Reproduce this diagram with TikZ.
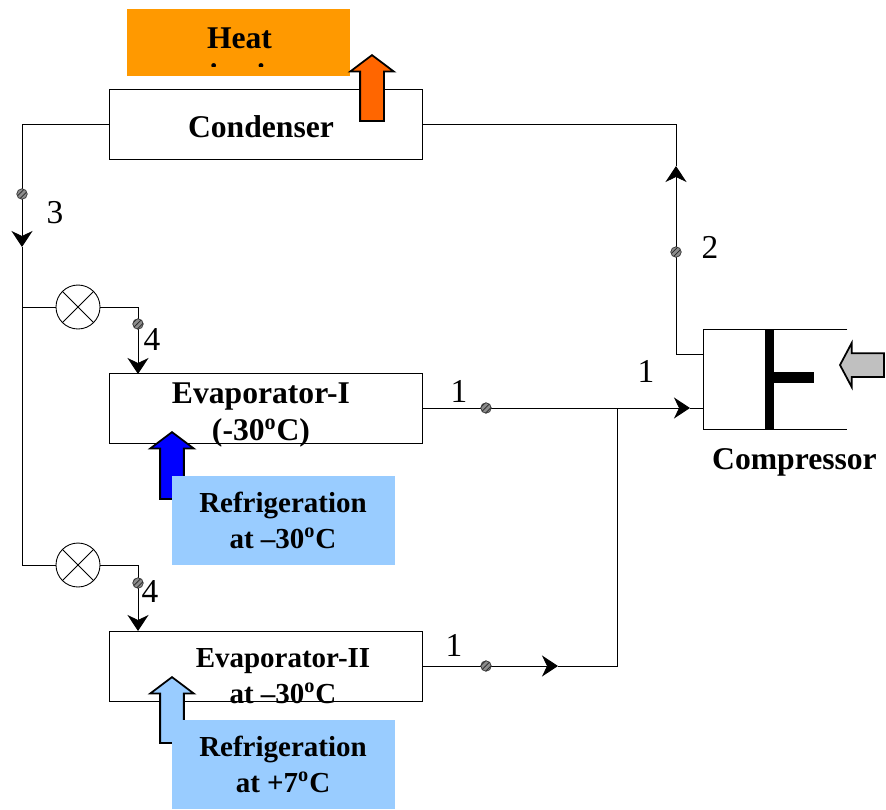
\documentclass[tikz,border=0pt]{standalone}
\usepackage{fontspec}
\setmainfont{Liberation Serif}
\usepackage{xcolor}
\usepackage{tikz}
\usetikzlibrary{shapes.arrows, arrows.meta, patterns}
\definecolor{myorange}{RGB}{255,153,0}
\definecolor{hotarrow}{RGB}{255,102,0}
\definecolor{myblue}{RGB}{0,0,255}
\definecolor{myskyblue}{RGB}{153,204,255}
\definecolor{mygrey}{RGB}{192,192,192}
\tikzset{
  unitbox/.style={rectangle, draw=black, minimum width=6.26cm, minimum height=1.4cm, inner sep=0pt, line width=0.5pt},
  notebox/.style={rectangle, minimum width=4.46cm, inner sep=0pt},
  boldtext/.style={font=\bfseries\fontsize{18}{21.5}\selectfont, align=center, inner sep=0pt},
  smalltext/.style={font=\bfseries\fontsize{16.5}{20.5}\selectfont, align=center, inner sep=0pt},
  statenum/.style={font=\fontsize{19}{21}\selectfont, inner sep=0pt},
  statedot/.style={circle, draw=black!80, preaction={fill=black!45}, pattern=north east lines, pattern color=black!85, minimum size=0.21cm, inner sep=0pt, line width=0.4pt},
  valve/.style={circle, draw=black, fill=white, minimum size=0.88cm, inner sep=0pt, line width=0.5pt},
  blockarrow/.style={single arrow, draw=black, line width=1pt, inner xsep=0pt, inner ysep=0.22cm, minimum width=0.84cm,
    single arrow head extend=0.2cm, single arrow tip angle=106, anchor=tip},
  line/.style={line width=0.5pt, color=black},
  arrow/.style={-{Stealth[length=0.32cm, width=0.42cm, inset=0.1cm]}, line width=0.5pt, color=black}
}
\begin{document}
\begin{tikzpicture}[x=0.02cm, y=-0.02cm]
  \useasboundingbox (0,0) rectangle (886,809);

  % Condenser and heat rejection
  \node[unitbox] (cond) at (265.5,124) {};
  \node[boldtext] (condtext) at (261,127) {Condenser};
  \node[notebox, fill=myorange, minimum height=1.34cm] (heat) at (238.5,42.5) {};
  \begin{scope}
    \clip (127,9) rectangle (350,66);
    \node[boldtext] (heattext) at (239.5,60) {Heat\\rejection};
  \end{scope}
  \node[blockarrow, rotate=90, fill=hotarrow, minimum height=1.32cm] (hotout) at (372,54) {};

  % Evaporator I
  \node[unitbox] (evapone) at (265.5,408.5) {};
  \node[boldtext] (evaponetext) at (261,415) {Evaporator-I\\(-30\textsuperscript{o}C)};
  \node[blockarrow, rotate=90, fill=myblue, minimum height=1.34cm] (coldone) at (172,431) {};
  \node[notebox, fill=myskyblue, minimum height=1.78cm] (refrone) at (283.5,520.5) {};
  \node[smalltext] (refronetext) at (283,520) {Refrigeration\\at --30\textsuperscript{o}C};

  % Evaporator II
  \node[unitbox] (evaptwo) at (265.5,666) {};
  \node[smalltext] (evaptwotext) at (283,676) {Evaporator-II\\at --30\textsuperscript{o}C};
  \node[blockarrow, rotate=90, fill=myskyblue, minimum height=1.32cm] (coldtwo) at (172,676) {};
  \node[notebox, fill=myskyblue, minimum height=1.78cm] (refrtwo) at (283.5,764.5) {};
  \node[smalltext] (refrtwotext) at (283,764) {Refrigeration\\at +7\textsuperscript{o}C};

  % Compressor
  \node[minimum width=2.86cm, minimum height=1.98cm, inner sep=0pt] (comp) at (775.5,379.5) {};
  \draw[line] (comp.north east) -- (comp.north west) -- (comp.south west) -- (comp.south east);
  \node[rectangle, fill=black, minimum width=0.18cm, minimum height=1.98cm, inner sep=0pt] (rod) at (769.5,379.5) {};
  \node[rectangle, fill=black, minimum width=0.8cm, minimum height=0.21cm, inner sep=0pt] (piston) at (794,377.5) {};
  \node[boldtext] (comptext) at (794.5,462) {Compressor};
  \node[blockarrow, rotate=180, fill=mygrey, minimum height=0.88cm, single arrow tip angle=124] (work) at (839,365) {};

  % Junctions and valves
  \coordinate (arrowthree) at (22,247);
  \coordinate (jone) at (22,307);
  \coordinate (jtwo) at (22,565);
  \node[valve] (valveone) at (78,307) {};
  \node[valve] (valvetwo) at (78,565) {};
  \draw[line] (valveone.45) -- (valveone.225);
  \draw[line] (valveone.135) -- (valveone.315);
  \draw[line] (valvetwo.45) -- (valvetwo.225);
  \draw[line] (valvetwo.135) -- (valvetwo.315);
  \coordinate (inone) at (138,374);
  \coordinate (intwo) at (138,631);
  \coordinate (outone) at (422,408);
  \coordinate (outtwo) at (422,666);
  \coordinate (arrowtwo) at (558,666);
  \coordinate (merge) at (617,408);
  \coordinate (mergelow) at (617,666);
  \coordinate (suction) at (690,408);
  \coordinate (compin) at (703,408);
  \coordinate (compout) at (703,354);
  \coordinate (arrowup) at (676,166);
  \coordinate (condin) at (422,124);

  % Connect condenser to expansion valves
  \draw[arrow] (cond.west) -- (22,124) -- (arrowthree);
  \draw[line] (arrowthree) -- (jtwo);
  \draw[line] (jone) -- (valveone.west);
  \draw[line] (jtwo) -- (valvetwo.west);
  \draw[arrow] (valveone.east) -| (inone);
  \draw[arrow] (valvetwo.east) -| (intwo);

  % Connect evaporators to compressor
  \draw[arrow] (outone) -- (suction);
  \draw[line] (suction) -- (compin);
  \draw[arrow] (outtwo) -- (arrowtwo);
  \draw[line] (arrowtwo) -- (mergelow) -- (merge);

  % Connect compressor to condenser
  \draw[arrow] (compout) -| (arrowup);
  \draw[line] (arrowup) |- (condin);

  % State points
  \node[statedot] (dotthree) at (22,194) {};
  \node[statedot] (dotfoura) at (138,324) {};
  \node[statedot] (dotfourb) at (138,583) {};
  \node[statedot] (dotonea) at (486,408) {};
  \node[statedot] (dotoneb) at (486,666) {};
  \node[statedot] (dottwo) at (676,252) {};
  \node[statenum] (numthree) at (55,213) {3};
  \node[statenum] (numfoura) at (152,340) {4};
  \node[statenum] (numfourb) at (150,592) {4};
  \node[statenum] (numonea) at (459,391) {1};
  \node[statenum] (numoneb) at (454,645) {1};
  \node[statenum] (numonec) at (646,371) {1};
  \node[statenum] (numtwo) at (710,247) {2};
\end{tikzpicture}
\end{document}
